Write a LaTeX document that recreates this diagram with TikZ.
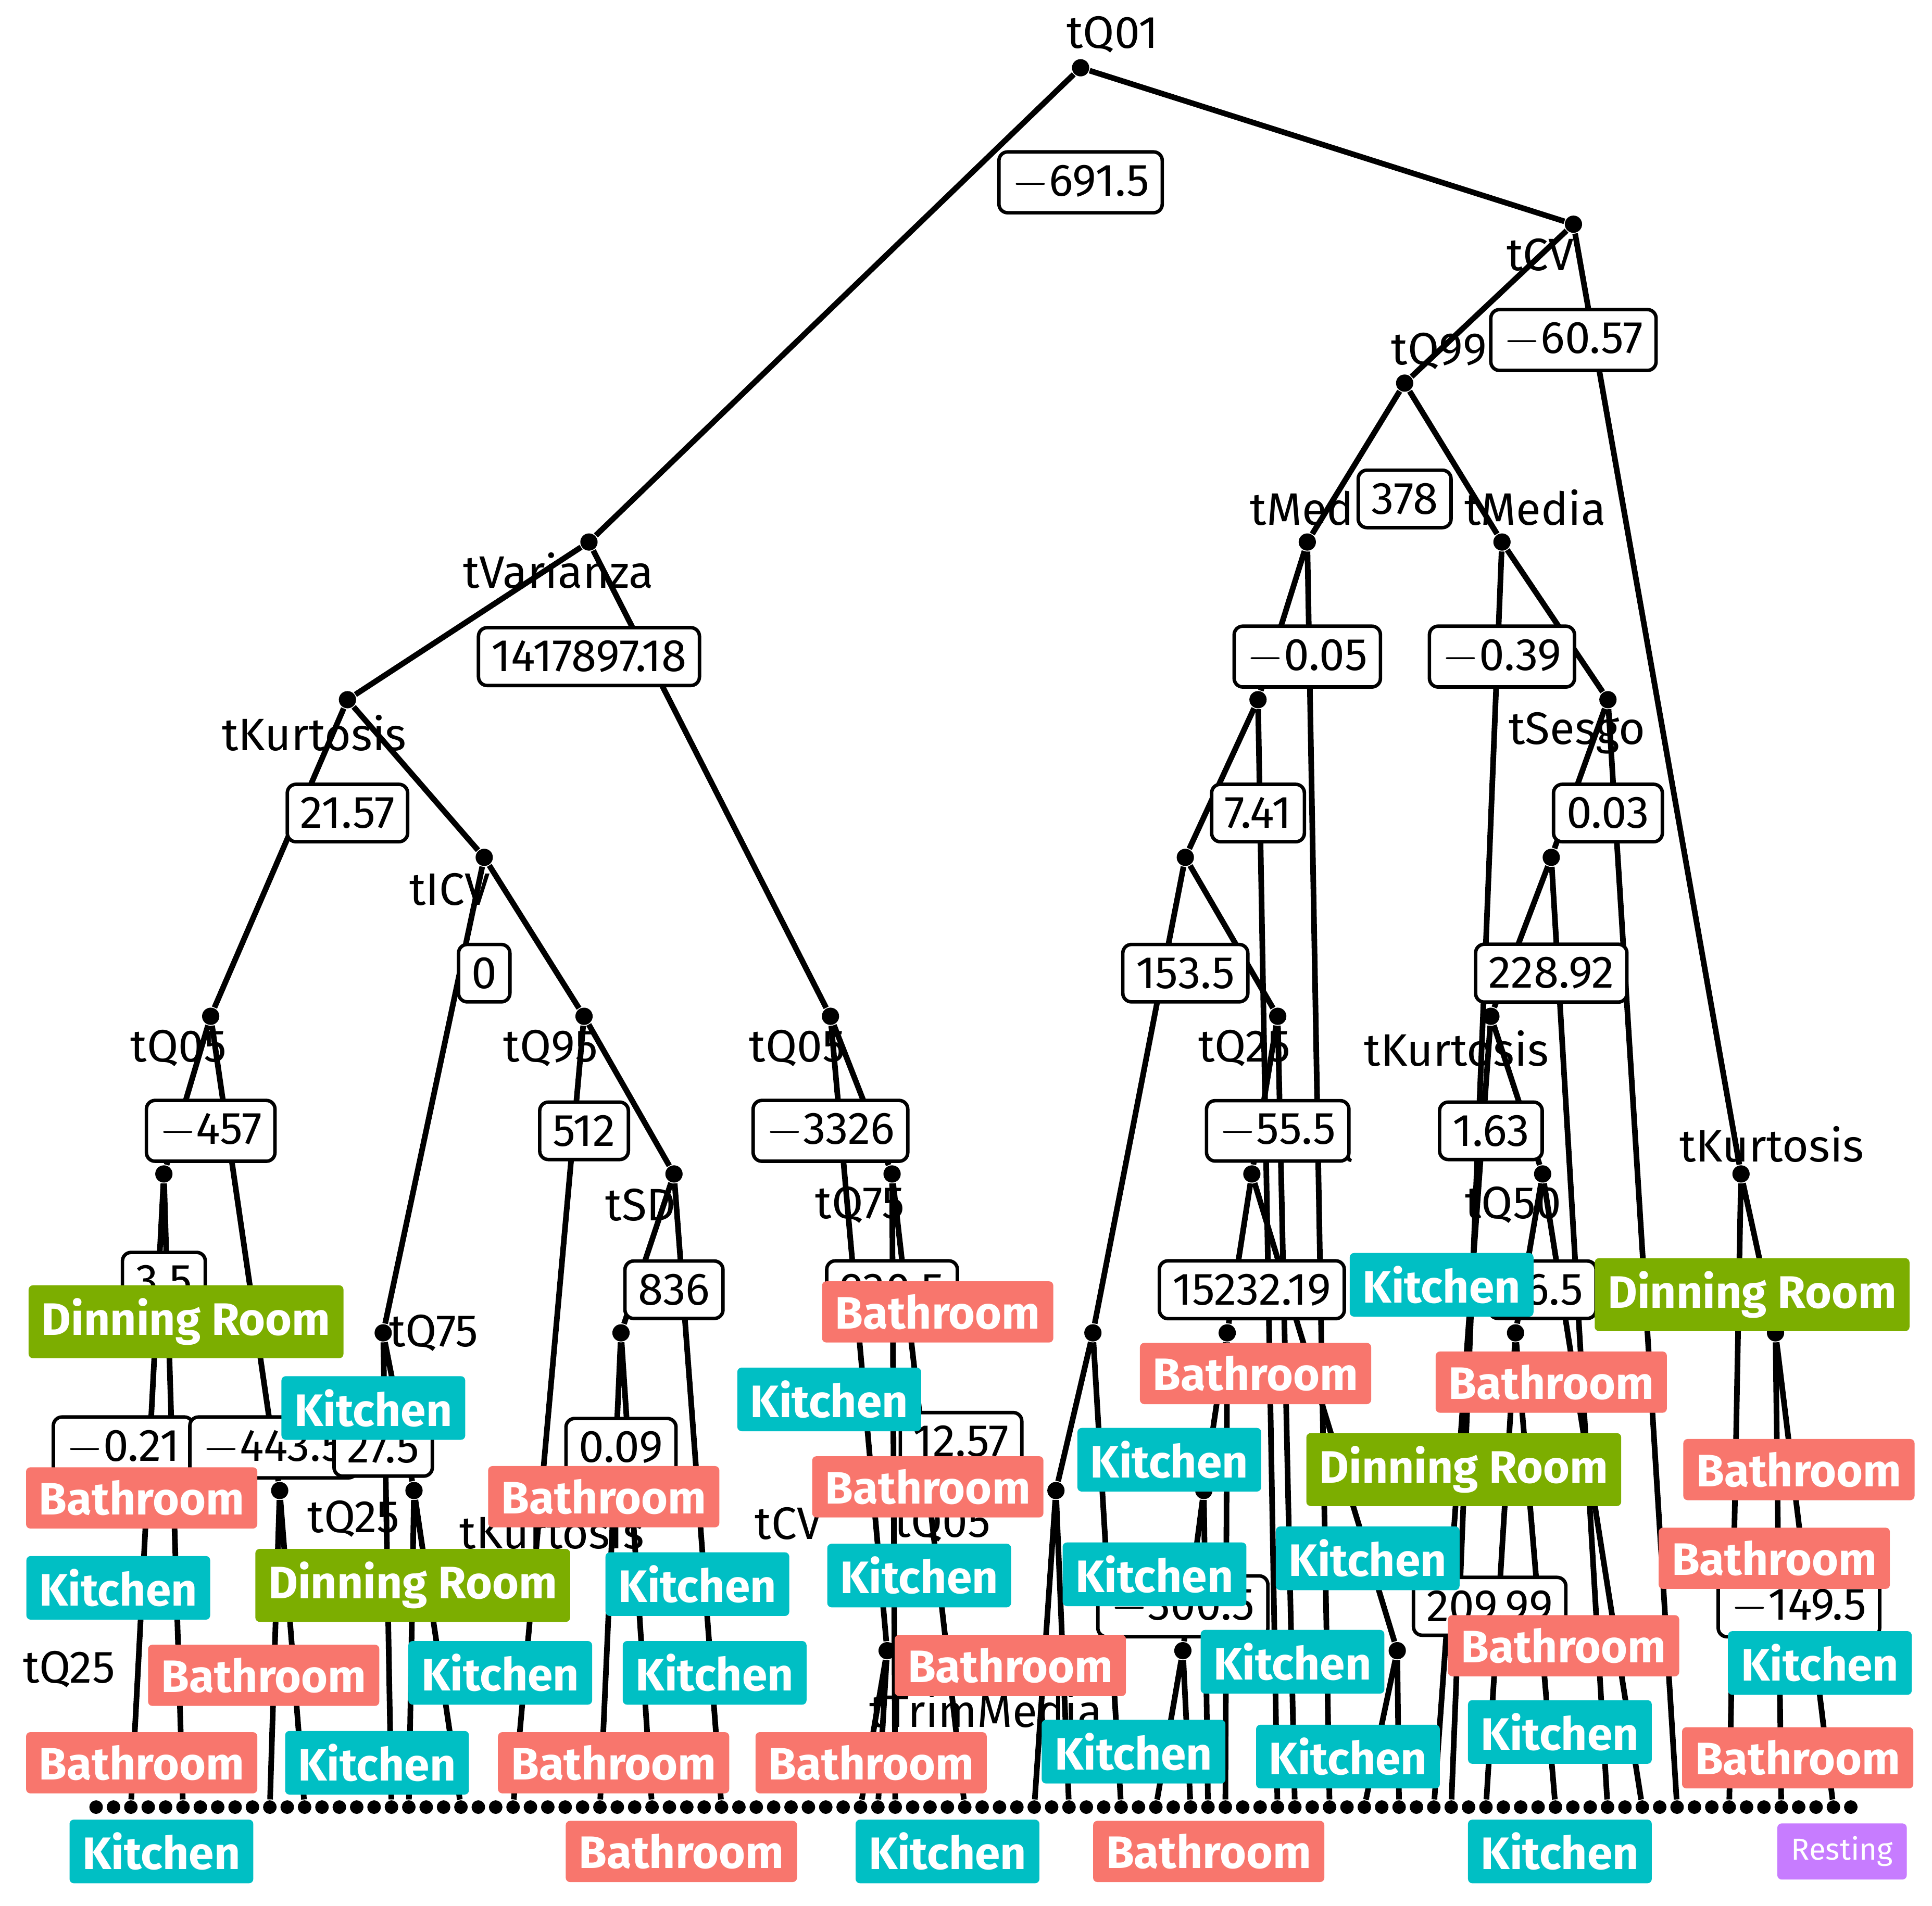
\documentclass[tikz,border=0pt]{standalone}
\usepackage{fontspec}
\setmainfont{Fira Sans}
\usetikzlibrary{positioning}

\definecolor{bathcol}{HTML}{F8766D}
\definecolor{kitcol}{HTML}{00BFC4}
\definecolor{dincol}{HTML}{7CAE00}
\definecolor{restcol}{HTML}{C77CFF}

\tikzset{
  inner/.style={circle, fill=black, inner sep=0pt, minimum size=0.14cm},
  leafdot/.style={circle, fill=black, inner sep=0pt, minimum size=0.11cm},
  varlabel/.style={font=\fontsize{10.5}{12}\selectfont, inner sep=1pt},
  splitbox/.style={draw, thick, rounded corners=2pt, fill=white, font=\fontsize{10.5}{12}\selectfont, inner sep=3pt},
  leaflab/.style={rounded corners=1pt, text=white, font=\bfseries\fontsize{10.5}{12}\selectfont, inner sep=3pt},
  bath/.style={leaflab, fill=bathcol},
  kit/.style={leaflab, fill=kitcol},
  din/.style={leaflab, fill=dincol},
  rest/.style={leaflab, fill=restcol, font=\fontsize{7}{8}\selectfont, minimum height=0.45cm},
  branch/.style={line width=1.3pt}
}

\begin{document}
\begin{tikzpicture}[x=0.01cm, y=-0.01cm]
   \useasboundingbox (0,0) rectangle (1568,1547);

   % inner nodes
   \node[inner] (n1)  at (877,55)   {};
   \node[inner] (n2)  at (478,440)  {};
   \node[inner] (n3)  at (1277,182) {};
   \node[inner] (n4)  at (1140,311) {};
   \node[inner] (n5)  at (1061,440) {};
   \node[inner] (n6)  at (1219,440) {};
   \node[inner] (n7)  at (282,568)  {};
   \node[inner] (n8)  at (393,696)  {};
   \node[inner] (n9)  at (171,825)  {};
   \node[inner] (n10) at (474,825)  {};
   \node[inner] (n11) at (674,825)  {};
   \node[inner] (n12) at (547,953)  {};
   \node[inner] (n13) at (724,953)  {};
   \node[inner] (n14) at (133,953)  {};
   \node[inner] (n15) at (311,1082) {};
   \node[inner] (n16) at (1021,568) {};
   \node[inner] (n17) at (962,696)  {};
   \node[inner] (n18) at (1037,825) {};
   \node[inner] (n19) at (1016,953) {};
   \node[inner] (n20) at (1305,568) {};
   \node[inner] (n21) at (1259,696) {};
   \node[inner] (n22) at (1210,825) {};
   \node[inner] (n23) at (1252,953) {};
   \node[inner] (n24) at (1413,953) {};
   \node[inner] (n25) at (504,1082) {};
   \node[inner] (n26) at (887,1082) {};
   \node[inner] (n27) at (996,1082) {};
   \node[inner] (n28) at (1230,1082) {};
   \node[inner] (n29) at (1441,1082) {};
   \node[inner] (n30) at (227,1210) {};
   \node[inner] (n31) at (336,1210) {};
   \node[inner] (n32) at (857,1210) {};
   \node[inner] (n33) at (977,1210) {};
   \node[inner] (n34) at (960,1340) {};
   \node[inner] (n35) at (1134,1340) {};
   \node[inner] (n36) at (720,1340) {};

   % leaf dots
   \foreach \i in {0,...,101}
      \node[leafdot] (l\i) at ({78+\i*14.1},1467) {};

   % branches
   \draw[branch] (n1) -- (n2) (n1) -- (n3);
   \draw[branch] (n3) -- (n4) (n3) -- (n24);
   \draw[branch] (n4) -- (n5) (n4) -- (n6);
   \draw[branch] (n5) -- (n16) (n5) -- (l71);
   \draw[branch] (n6) -- (n20) (n6) -- (l78);
   \draw[branch] (n2) -- (n7) (n2) -- (n11);
   \draw[branch] (n7) -- (n9) (n7) -- (n8);
   \draw[branch] (n8) -- (n15) (n8) -- (n10);
   \draw[branch] (n9) -- (n14) (n9) -- (n30);
   \draw[branch] (n10) -- (l24) (n10) -- (n12);
   \draw[branch] (n11) -- (n36) (n11) -- (n13);
   \draw[branch] (n12) -- (n25) (n12) -- (l36);
   \draw[branch] (n13) -- (l46) (n13) -- (l50);
   \draw[branch] (n14) -- (l2) (n14) -- (l5);
   \draw[branch] (n15) -- (l17) (n15) -- (n31);
   \draw[branch] (n16) -- (n17) (n16) -- (l68);
   \draw[branch] (n17) -- (n26) (n17) -- (n18);
   \draw[branch] (n18) -- (n19) (n18) -- (l69);
   \draw[branch] (n19) -- (n27) (n19) -- (n35);
   \draw[branch] (n20) -- (n21) (n20) -- (l91);
   \draw[branch] (n21) -- (n22) (n21) -- (l87);
   \draw[branch] (n22) -- (l77) (n22) -- (n23);
   \draw[branch] (n23) -- (n28) (n23) -- (l89);
   \draw[branch] (n24) -- (l94) (n24) -- (n29);
   \draw[branch] (n25) -- (l29) (n25) -- (l32);
   \draw[branch] (n26) -- (n32) (n26) -- (l59);
   \draw[branch] (n27) -- (n33) (n27) -- (l65);
   \draw[branch] (n28) -- (l80) (n28) -- (l84);
   \draw[branch] (n29) -- (l97) (n29) -- (l100);
   \draw[branch] (n30) -- (l10) (n30) -- (l12);
   \draw[branch] (n31) -- (l18) (n31) -- (l21);
   \draw[branch] (n32) -- (l54) (n32) -- (l56);
   \draw[branch] (n33) -- (n34) (n33) -- (l64);
   \draw[branch] (n34) -- (l61) (n34) -- (l63);
   \draw[branch] (n35) -- (l73) (n35) -- (l75);
   \draw[branch] (n36) -- (l44) (n36) -- (l45);

   % variable labels
   \node[varlabel] at (903,28)   {tQ01};
   \node[varlabel] at (1250,207) {tCV};
   \node[varlabel] at (1168,285) {tQ99};
   \node[varlabel] at (1072,412) {tMedia};
   \node[varlabel] at (1246,412) {tMedia};
   \node[varlabel] at (453,463)  {tVarianza};
   \node[varlabel] at (255,595)  {tKurtosis};
   \node[varlabel] at (1280,595) {tSesgo};
   \node[varlabel] at (365,722)  {tICV};
   \node[varlabel] at (145,851)  {tQ05};
   \node[varlabel] at (447,851)  {tQ95};
   \node[varlabel] at (647,851)  {tQ05};
   \node[varlabel] at (1010,851) {tQ25};
   \node[varlabel] at (1182,851) {tKurtosis};
   \node[varlabel] at (1438,929) {tKurtosis};
   \node[varlabel] at (520,978)  {tSD};
   \node[varlabel] at (698,978)  {tQ75};
   \node[varlabel] at (1228,978) {tQ50};
   \node[varlabel] at (1042,929) {tMedia};
   \node[varlabel] at (352,1082) {tQ75};
   \node[varlabel] at (287,1233) {tQ25};
   \node[varlabel] at (448,1243) {tKurtosis};
   \node[varlabel] at (640,1237) {tCV};
   \node[varlabel] at (765,1237) {tQ05};
   \node[varlabel] at (800,1388) {tTrimMedia};
   \node[varlabel] at (56,1355)  {tQ25};

   % split values
   \node[splitbox] at (877,148)   {$-$691.5};
   \node[splitbox] at (1277,276)  {$-$60.57};
   \node[splitbox] at (1140,405)  {378};
   \node[splitbox] at (478,533)   {1417897.18};
   \node[splitbox] at (1061,533)  {$-$0.05};
   \node[splitbox] at (1219,533)  {$-$0.39};
   \node[splitbox] at (282,660)   {21.57};
   \node[splitbox] at (1021,660)  {7.41};
   \node[splitbox] at (1305,660)  {0.03};
   \node[splitbox] at (393,790)   {0};
   \node[splitbox] at (962,790)   {153.5};
   \node[splitbox] at (1259,790)  {228.92};
   \node[splitbox] at (171,918)   {$-$457};
   \node[splitbox] at (474,918)   {512};
   \node[splitbox] at (674,918)   {$-$3326};
   \node[splitbox] at (1037,918)  {$-$55.5};
   \node[splitbox] at (1210,918)  {1.63};
   \node[splitbox] at (133,1040)  {3.5};
   \node[splitbox] at (547,1047)  {836};
   \node[splitbox] at (724,1047)  {930.5};
   \node[splitbox] at (1016,1047) {15232.19};
   \node[splitbox] at (1252,1047) {26.5};
   \node[splitbox] at (100,1175)  {$-$0.21};
   \node[splitbox] at (222,1175)  {$-$443.5};
   \node[splitbox] at (311,1175)  {27.5};
   \node[splitbox] at (504,1175)  {0.09};
   \node[splitbox] at (780,1170)  {12.57};
   \node[splitbox] at (960,1304)  {$-$300.5};
   \node[splitbox] at (1209,1304) {209.99};
   \node[splitbox] at (1460,1304) {$-$149.5};

   % leaf class labels
   \node[din]  at (151,1073)  {Dinning Room};
   \node[kit]  at (303,1143)  {Kitchen};
   \node[bath] at (115,1216)  {Bathroom};
   \node[kit]  at (96,1289)   {Kitchen};
   \node[din]  at (335,1287)  {Dinning Room};
   \node[bath] at (214,1360)  {Bathroom};
   \node[kit]  at (406,1358)  {Kitchen};
   \node[bath] at (115,1431)  {Bathroom};
   \node[kit]  at (306,1431)  {Kitchen};
   \node[bath] at (490,1215)  {Bathroom};
   \node[kit]  at (566,1286)  {Kitchen};
   \node[kit]  at (580,1358)  {Kitchen};
   \node[bath] at (498,1431)  {Bathroom};
   \node[bath] at (761,1065)  {Bathroom};
   \node[kit]  at (673,1136)  {Kitchen};
   \node[bath] at (753,1207)  {Bathroom};
   \node[kit]  at (746,1279)  {Kitchen};
   \node[bath] at (820,1352)  {Bathroom};
   \node[bath] at (707,1431)  {Bathroom};
   \node[bath] at (1019,1115) {Bathroom};
   \node[kit]  at (949,1185)  {Kitchen};
   \node[kit]  at (937,1278)  {Kitchen};
   \node[kit]  at (1049,1349) {Kitchen};
   \node[kit]  at (920,1422)  {Kitchen};
   \node[kit]  at (1094,1426) {Kitchen};
   \node[kit]  at (1170,1043) {Kitchen};
   \node[bath] at (1259,1122) {Bathroom};
   \node[din]  at (1188,1193) {Dinning Room};
   \node[kit]  at (1110,1265) {Kitchen};
   \node[bath] at (1269,1336) {Bathroom};
   \node[kit]  at (1266,1406) {Kitchen};
   \node[din]  at (1422,1051) {Dinning Room};
   \node[bath] at (1460,1193) {Bathroom};
   \node[bath] at (1440,1265) {Bathroom};
   \node[kit]  at (1477,1350) {Kitchen};
   \node[bath] at (1459,1427) {Bathroom};
   % bottom row
   \node[kit]  at (131,1503)  {Kitchen};
   \node[bath] at (553,1503)  {Bathroom};
   \node[kit]  at (769,1503)  {Kitchen};
   \node[bath] at (981,1503)  {Bathroom};
   \node[kit]  at (1266,1503) {Kitchen};
   \node[rest, minimum width=1.05cm] at (1495,1503) {Resting};
\end{tikzpicture}
\end{document}
